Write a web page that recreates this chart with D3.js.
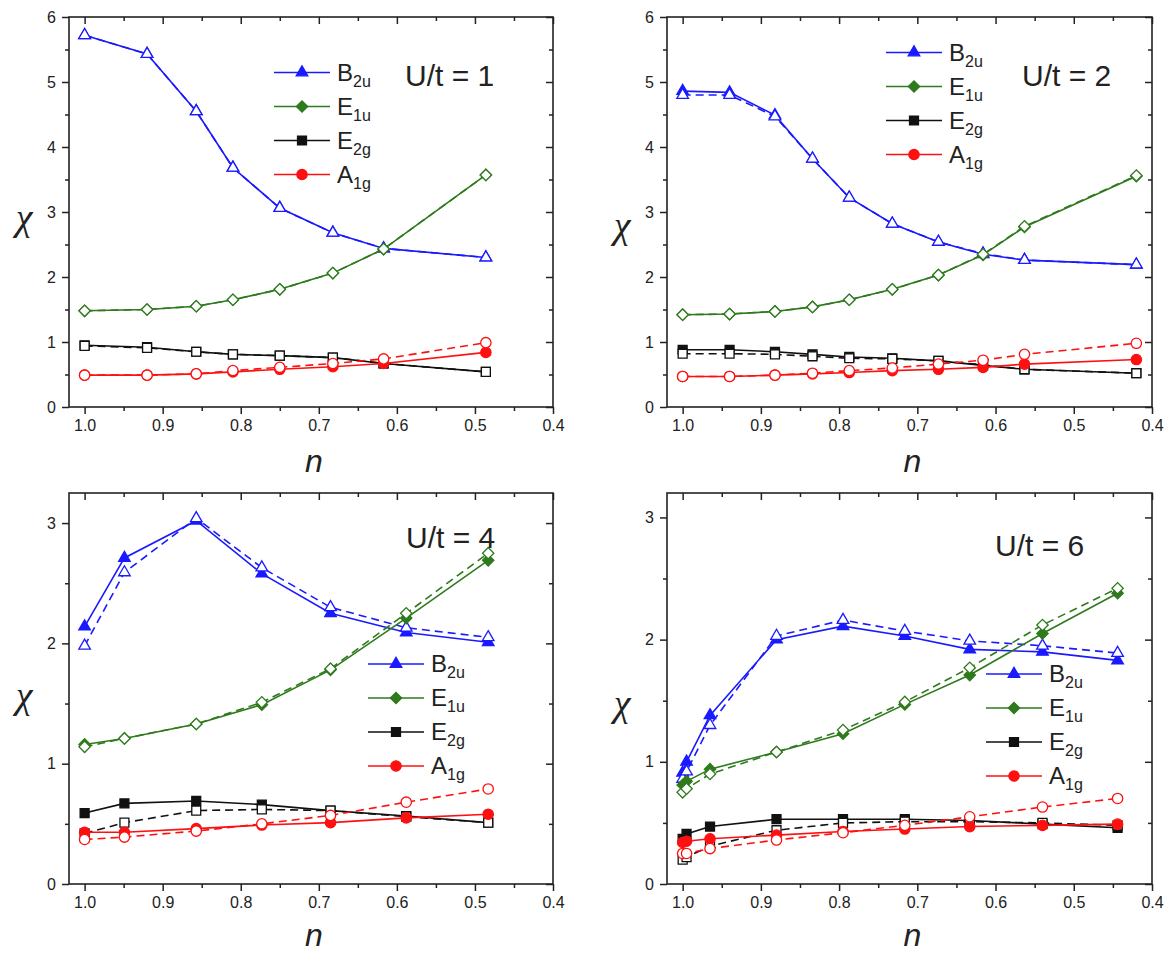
<!DOCTYPE html>
<html>
<head>
<meta charset="utf-8">
<script src="https://cdn.jsdelivr.net/npm/d3@7"></script>
<style>
  body { margin: 0; background: #fff; }
  text { font-family: "Liberation Sans", Arial, sans-serif; fill: #222; }
</style>
</head>
<body>
<div id="chart"></div>
<script>
// ---- data ----
const nU1 = [1.0, 0.92, 0.857, 0.81, 0.75, 0.682, 0.617, 0.486];
const b2uSolidU1 = [5.72, 5.43, 4.55, 3.68, 3.06, 2.68, 2.44, 2.30];
const b2uDashU1 = [5.72, 5.43, 4.55, 3.68, 3.06, 2.68, 2.44, 2.30];
const e1uSolidU1 = [1.48, 1.50, 1.55, 1.65, 1.81, 2.06, 2.43, 3.57];
const e1uDashU1 = [1.48, 1.50, 1.55, 1.65, 1.81, 2.06, 2.43, 3.57];
const e2gSolidU1 = [0.95, 0.92, 0.85, 0.81, 0.79, 0.76, 0.67, 0.54];
const e2gDashU1 = [0.94, 0.91, 0.85, 0.81, 0.79, 0.76, 0.67, 0.54];
const a1gSolidU1 = [0.49, 0.49, 0.51, 0.54, 0.58, 0.62, 0.67, 0.84];
const a1gDashU1 = [0.49, 0.49, 0.51, 0.56, 0.61, 0.67, 0.74, 0.99];

const nU2 = [1.0, 0.94, 0.882, 0.834, 0.787, 0.732, 0.673, 0.616, 0.563, 0.42];
const b2uSolidU2 = [4.86, 4.84, 4.49, 3.82, 3.22, 2.82, 2.54, 2.35, 2.26, 2.19];
const b2uDashU2 = [4.80, 4.80, 4.47, 3.82, 3.22, 2.82, 2.54, 2.36, 2.26, 2.19];
const e1uSolidU2 = [1.42, 1.43, 1.47, 1.54, 1.65, 1.81, 2.03, 2.34, 2.77, 3.55];
const e1uDashU2 = [1.42, 1.43, 1.47, 1.54, 1.65, 1.81, 2.03, 2.35, 2.78, 3.56];
const e2gSolidU2 = [0.88, 0.88, 0.85, 0.81, 0.77, 0.75, 0.71, 0.64, 0.58, 0.52];
const e2gDashU2 = [0.82, 0.82, 0.81, 0.78, 0.75, 0.74, 0.71, 0.65, 0.58, 0.52];
const a1gSolidU2 = [0.47, 0.47, 0.49, 0.51, 0.53, 0.56, 0.58, 0.61, 0.66, 0.73];
const a1gDashU2 = [0.47, 0.47, 0.49, 0.52, 0.56, 0.60, 0.66, 0.72, 0.81, 0.98];

const nU4 = [1.0, 0.949, 0.857, 0.773, 0.685, 0.588, 0.483];
const b2uSolidU4 = [2.14, 2.71, 3.02, 2.58, 2.25, 2.09, 2.01];
const b2uDashU4 = [1.98, 2.59, 3.04, 2.63, 2.30, 2.13, 2.05];
const e1uSolidU4 = [1.16, 1.21, 1.33, 1.49, 1.78, 2.21, 2.69];
const e1uDashU4 = [1.14, 1.21, 1.33, 1.51, 1.79, 2.25, 2.75];
const e2gSolidU4 = [0.59, 0.67, 0.69, 0.66, 0.61, 0.565, 0.51];
const e2gDashU4 = [0.42, 0.51, 0.61, 0.62, 0.61, 0.56, 0.51];
const a1gSolidU4 = [0.43, 0.43, 0.46, 0.49, 0.51, 0.55, 0.58];
const a1gDashU4 = [0.37, 0.39, 0.44, 0.50, 0.57, 0.68, 0.79];

const nU6 = [1.0, 0.995, 0.965, 0.88, 0.795, 0.716, 0.633, 0.54, 0.444];
const b2uSolidU6 = [0.91, 1.00, 1.38, 2.00, 2.11, 2.03, 1.92, 1.90, 1.83];
const b2uDashU6 = [0.86, 0.92, 1.30, 2.03, 2.16, 2.07, 1.99, 1.95, 1.89];
const e1uSolidU6 = [0.81, 0.84, 0.94, 1.08, 1.23, 1.47, 1.71, 2.05, 2.38];
const e1uDashU6 = [0.75, 0.78, 0.90, 1.08, 1.26, 1.49, 1.77, 2.12, 2.42];
const e2gSolidU6 = [0.37, 0.41, 0.47, 0.53, 0.53, 0.53, 0.52, 0.49, 0.46];
const e2gDashU6 = [0.20, 0.22, 0.31, 0.44, 0.50, 0.51, 0.51, 0.50, 0.48];
const a1gSolidU6 = [0.34, 0.35, 0.37, 0.40, 0.43, 0.45, 0.47, 0.48, 0.49];
const a1gDashU6 = [0.25, 0.25, 0.29, 0.36, 0.42, 0.48, 0.55, 0.63, 0.70];

const xTicks = [1.0, 0.9, 0.8, 0.7, 0.6, 0.5, 0.4];
const xMinor = [0.95, 0.85, 0.75, 0.65, 0.55, 0.45];
const seriesNames = ["B", "E", "E", "A"];
const seriesSubs = ["2u", "1u", "2g", "1g"];

// ---- layout ----
const width = 1165, height = 954;
const colors = ["#1a1aff", "#2e7a1c", "#111111", "#ff1010"];
const symbols = ["triangle", "diamond", "square", "circle"];

const panels = [
  { label: "U/t = 1", n: nU1, ymax: 6,
    solid: [b2uSolidU1, e1uSolidU1, e2gSolidU1, a1gSolidU1], dash: [b2uDashU1, e1uDashU1, e2gDashU1, a1gDashU1],
    left: 69, right: 553, top: 17, bottom: 407, chiY: 222, nY: 472,
    leg: { x: 274, y: 72.5, dy: 34 }, title: { x: 405, y: 86 } },
  { label: "U/t = 2", n: nU2, ymax: 6,
    solid: [b2uSolidU2, e1uSolidU2, e2gSolidU2, a1gSolidU2], dash: [b2uDashU2, e1uDashU2, e2gDashU2, a1gDashU2],
    left: 667, right: 1152, top: 17, bottom: 407, chiY: 230, nY: 472,
    leg: { x: 886, y: 52.5, dy: 34 }, title: { x: 1022, y: 86 } },
  { label: "U/t = 4", n: nU4, ymax: 3.25,
    solid: [b2uSolidU4, e1uSolidU4, e2gSolidU4, a1gSolidU4], dash: [b2uDashU4, e1uDashU4, e2gDashU4, a1gDashU4],
    left: 69, right: 553, top: 493, bottom: 884, chiY: 700, nY: 946,
    leg: { x: 368, y: 664, dy: 34 }, title: { x: 406, y: 548 } },
  { label: "U/t = 6", n: nU6, ymax: 3.2,
    solid: [b2uSolidU6, e1uSolidU6, e2gSolidU6, a1gSolidU6], dash: [b2uDashU6, e1uDashU6, e2gDashU6, a1gDashU6],
    left: 667, right: 1152, top: 493, bottom: 884, chiY: 708, nY: 946,
    leg: { x: 986, y: 674, dy: 34 }, title: { x: 995, y: 556 } }
];

const svg = d3.select("#chart")
  .append("svg")
  .attr("width", width)
  .attr("height", height);

function marker(g, kind, x, y, color, filled) {
  let path;
  if (kind === "triangle") path = d3.symbol(d3.symbolTriangle, 58)();
  else if (kind === "diamond") path = d3.symbol(d3.symbolSquare, 64)();
  else if (kind === "square") path = d3.symbol(d3.symbolSquare, 80)();
  else path = d3.symbol(d3.symbolCircle, 84)();
  g.append("path")
    .attr("d", path)
    .attr("transform", `translate(${x},${y})` + (kind === "diamond" ? " rotate(45)" : ""))
    .attr("fill", filled ? color : "#fff")
    .attr("stroke", color)
    .attr("stroke-width", 1.3);
}

panels.forEach(p => {
  const x = d3.scaleLinear().domain([1.02, 0.4]).range([p.left, p.right]);
  const y = d3.scaleLinear().domain([0, p.ymax]).range([p.bottom, p.top]);
  const g = svg.append("g");

  const yMajor = d3.range(0, Math.floor(p.ymax) + 1);
  const yMinor = d3.range(0.5, p.ymax, 1);

  // axes
  const styleAxis = sel => {
    sel.select(".domain").remove();
    sel.selectAll("line").attr("stroke", "#222").attr("stroke-width", 1.5);
    sel.selectAll("text").attr("font-size", 16).attr("fill", "#222");
  };
  g.append("g").attr("transform", `translate(0,${p.bottom})`)
    .call(d3.axisBottom(x).tickValues(xTicks).tickFormat(d3.format(".1f")).tickSize(7).tickPadding(6))
    .call(styleAxis);
  g.append("g").attr("transform", `translate(0,${p.bottom})`)
    .call(d3.axisBottom(x).tickValues(xMinor).tickFormat("").tickSize(4))
    .call(styleAxis);
  g.append("g").attr("transform", `translate(0,${p.top})`)
    .call(d3.axisTop(x).tickValues(xTicks).tickFormat("").tickSize(-7))
    .call(styleAxis);
  g.append("g").attr("transform", `translate(0,${p.top})`)
    .call(d3.axisTop(x).tickValues(xMinor).tickFormat("").tickSize(-4))
    .call(styleAxis);
  g.append("g").attr("transform", `translate(${p.left},0)`)
    .call(d3.axisLeft(y).tickValues(yMajor).tickFormat(d3.format("d")).tickSize(7).tickPadding(6))
    .call(styleAxis);
  g.append("g").attr("transform", `translate(${p.left},0)`)
    .call(d3.axisLeft(y).tickValues(yMinor).tickFormat("").tickSize(4))
    .call(styleAxis);
  g.append("g").attr("transform", `translate(${p.right},0)`)
    .call(d3.axisRight(y).tickValues(yMajor).tickFormat("").tickSize(-7))
    .call(styleAxis);
  g.append("g").attr("transform", `translate(${p.right},0)`)
    .call(d3.axisRight(y).tickValues(yMinor).tickFormat("").tickSize(-4))
    .call(styleAxis);

  // series: solid line + filled marks, then dashed line + open marks
  const line = d3.line().x(d => x(d[0])).y(d => y(d[1]));
  for (let s = 0; s < 4; s++) {
    const solid = p.n.map((v, i) => [v, p.solid[s][i]]);
    const dash = p.n.map((v, i) => [v, p.dash[s][i]]);
    g.append("path").attr("d", line(solid)).attr("fill", "none")
      .attr("stroke", colors[s]).attr("stroke-width", 1.6);
    solid.forEach(d => marker(g, symbols[s], x(d[0]), y(d[1]), colors[s], true));
    g.append("path").attr("d", line(dash)).attr("fill", "none")
      .attr("stroke", colors[s]).attr("stroke-width", 1.6).attr("stroke-dasharray", "8,5");
    dash.forEach(d => marker(g, symbols[s], x(d[0]), y(d[1]), colors[s], false));
  }

  // frame
  g.append("rect")
    .attr("x", p.left).attr("y", p.top)
    .attr("width", p.right - p.left).attr("height", p.bottom - p.top)
    .attr("fill", "none").attr("stroke", "#222").attr("stroke-width", 1.6);

  // legend
  for (let s = 0; s < 4; s++) {
    const ly = p.leg.y + s * p.leg.dy;
    g.append("line")
      .attr("x1", p.leg.x).attr("x2", p.leg.x + 56)
      .attr("y1", ly).attr("y2", ly)
      .attr("stroke", colors[s]).attr("stroke-width", 1.6);
    marker(g, symbols[s], p.leg.x + 28, ly, colors[s], true);
    const t = g.append("text")
      .attr("x", p.leg.x + 63).attr("y", ly + 8)
      .attr("font-size", 24);
    t.append("tspan").text(seriesNames[s]);
    t.append("tspan").attr("dy", 6).attr("font-size", 16).text(seriesSubs[s]);
  }

  // panel label
  g.append("text")
    .attr("x", p.title.x).attr("y", p.title.y)
    .attr("font-size", 30)
    .text(p.label);

  // axis titles
  g.append("text")
    .attr("x", (p.left + p.right) / 2 + 3).attr("y", p.nY)
    .attr("text-anchor", "middle")
    .attr("font-size", 32).attr("font-style", "italic")
    .text("n");
  g.append("text")
    .attr("x", p.left - 45).attr("y", p.chiY + 8)
    .attr("text-anchor", "middle")
    .attr("font-size", 38).attr("font-style", "italic")
    .style("font-family", "'Liberation Serif', serif")
    .text("χ");
});
</script>
</body>
</html>
